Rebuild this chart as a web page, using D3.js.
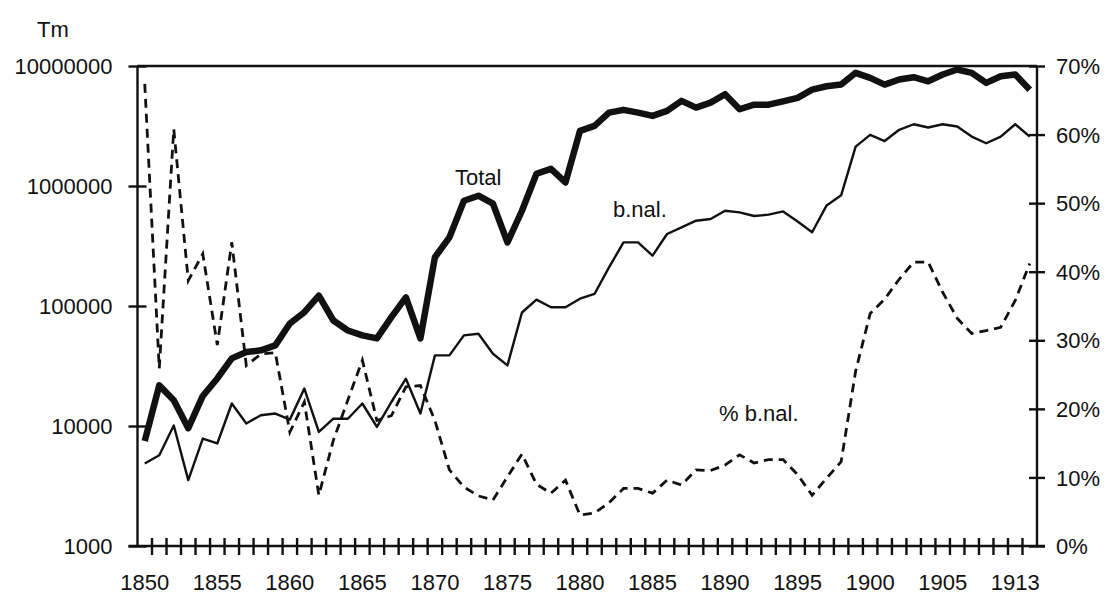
<!DOCTYPE html>
<html lang="en">
<head>
    <meta charset="UTF-8">
    <title>Tm - Total / b.nal.</title>
    <script src="https://cdnjs.cloudflare.com/ajax/libs/d3/7.8.5/d3.min.js"></script>
    <style>
        body { margin: 0; background: #fff; }
        svg text {
            font-family: "Liberation Sans", Arial, Helvetica, sans-serif;
            font-size: 22px;
            fill: #111;
        }
        .domain { display: none; }
        .tick line { stroke: #111; stroke-width: 2.4px; }
    </style>
</head>
<body>
    <div id="chart"></div>

    <script>
        // tonnage (Tm), log scale, left axis
        const total = [7500, 21800, 16400, 9600, 17800, 24900, 36600, 41300, 42700, 47000,
            71500, 88800, 122000, 75700, 62500, 56900, 53700, 80700, 118000, 53700,
            254700, 373000, 754000, 830000, 712000, 339000, 622000, 1265000, 1390000, 1071000,
            2880000, 3170000, 4090000, 4310000, 4090000, 3840000, 4230000, 5120000, 4500000, 4950000,
            5820000, 4360000, 4760000, 4760000, 5080000, 5420000, 6350000, 6780000, 7000000, 8770000,
            7960000, 7000000, 7710000, 8070000, 7460000, 8500000, 9350000, 8770000, 7230000, 8220000,
            8500000, 6350000];

        const bnal = [4870, 5710, 10100, 3540, 7860, 7150, 15400, 10500, 12300, 12700,
            11300, 20500, 8920, 11500, 11500, 15400, 9820, 15850, 24800, 12700,
            38800, 38800, 56900, 58700, 40000, 32000, 88300, 113000, 97700, 97700,
            115000, 126000, 210000, 339000, 339000, 263000, 398000, 452000, 514000, 531000,
            622000, 603000, 562000, 577000, 614000, 506000, 412000, 689000, 836000, 2130000,
            2670000, 2370000, 2940000, 3270000, 3070000, 3270000, 3130000, 2580000, 2270000, 2580000,
            3270000, 2580000];

        // % b.nal., right axis
        const pctBnal = [67.4, 25.9, 60.8, 38.7, 42.6, 29.3, 44.3, 26.3, 28.0, 28.2,
            16.6, 21.0, 7.4, 15.4, 21.3, 27.1, 18.3, 19.0, 23.2, 23.4,
            18.3, 11.1, 8.6, 7.3, 6.7, 10.1, 13.4, 9.0, 7.7, 9.6,
            4.5, 4.8, 6.3, 8.4, 8.4, 7.7, 9.6, 8.9, 11.1, 11.0,
            11.8, 13.3, 12.1, 12.6, 12.6, 10.4, 7.4, 9.9, 12.3, 25.5,
            33.9, 36.0, 38.9, 41.4, 41.4, 37.0, 33.2, 31.0, 31.4, 31.9,
            35.8, 41.2];

        // one label every 5 categories
        const xTickLabels = ["1850", "1855", "1860", "1865", "1870", "1875", "1880",
            "1885", "1890", "1895", "1900", "1905", "1913"];
        const leftTicks = [1000, 10000, 100000, 1000000, 10000000];
        const rightTicks = [0, 10, 20, 30, 40, 50, 60, 70];

        const width = 1107, height = 595;
        const plotL = 137.5, plotR = 1037, plotT = 66, plotB = 546;

        const svg = d3.select("#chart").append("svg")
            .attr("width", width)
            .attr("height", height);

        svg.append("rect").attr("width", width).attr("height", height).attr("fill", "#fff");

        const cats = total.map((d, i) => i);
        const x = d3.scaleBand().domain(cats).range([plotL, plotR]).padding(0);
        const cx = i => x(i) + x.bandwidth() / 2;
        const yL = d3.scaleLog().domain([1000, 10000000]).range([plotB, plotT]);
        const yR = d3.scaleLinear().domain([0, 70]).range([plotB, plotT]);

        // frame lines
        const frame = svg.append("g").attr("stroke", "#111").attr("stroke-width", 2.4);
        frame.append("line").attr("x1", plotL).attr("x2", plotR).attr("y1", plotT).attr("y2", plotT);
        frame.append("line").attr("x1", plotL).attr("x2", plotL).attr("y1", plotT).attr("y2", plotB);
        frame.append("line").attr("x1", plotR).attr("x2", plotR).attr("y1", plotT).attr("y2", plotB);
        frame.append("line").attr("x1", plotL - 9).attr("x2", plotR + 8).attr("y1", plotB).attr("y2", plotB);

        // left axis
        svg.append("g")
            .attr("transform", `translate(${plotL},0)`)
            .call(d3.axisLeft(yL).tickValues(leftTicks).tickFormat(d3.format("d")).tickSize(9).tickPadding(16))
            .call(g => g.selectAll(".tick line").attr("x2", -9).attr("x1", 9))
            .call(g => g.selectAll(".tick text").attr("dy", "0.35em"));

        // right axis
        svg.append("g")
            .attr("transform", `translate(${plotR},0)`)
            .call(d3.axisRight(yR).tickValues(rightTicks).tickFormat(d => d + "%").tickSize(8).tickPadding(11))
            .call(g => g.selectAll(".tick line").attr("x1", -8).attr("x2", 8))
            .call(g => g.selectAll(".tick text").attr("dy", "0.35em"));

        // x tick marks at category boundaries
        const step = x.step();
        const bounds = d3.range(cats.length + 1).map(k => plotL + k * step);
        svg.append("g").selectAll("line")
            .data(bounds.slice(1, -1))
            .enter().append("line")
            .attr("x1", d => d).attr("x2", d => d)
            .attr("y1", plotB - 8).attr("y2", plotB + 9)
            .attr("stroke", "#111").attr("stroke-width", 2.4);

        // x labels
        svg.append("g").selectAll("text")
            .data(xTickLabels)
            .enter().append("text")
            .attr("x", (d, i) => cx(i * 5))
            .attr("y", 590)
            .attr("text-anchor", "middle")
            .text(d => d);

        svg.append("text").attr("x", 37).attr("y", 37).text("Tm");

        // series
        const lineL = d3.line().x((d, i) => cx(i)).y(d => yL(d));
        const lineR = d3.line().x((d, i) => cx(i)).y(d => yR(d));

        svg.append("path").datum(pctBnal)
            .attr("d", lineR)
            .attr("fill", "none")
            .attr("stroke", "#111")
            .attr("stroke-width", 2.8)
            .attr("stroke-dasharray", "9,6");

        svg.append("path").datum(bnal)
            .attr("d", lineL)
            .attr("fill", "none")
            .attr("stroke", "#111")
            .attr("stroke-width", 2.4)
            .attr("stroke-linejoin", "round");

        svg.append("path").datum(total)
            .attr("d", lineL)
            .attr("fill", "none")
            .attr("stroke", "#111")
            .attr("stroke-width", 6.5)
            .attr("stroke-linejoin", "round");

        // series labels
        svg.append("text").attr("x", 455).attr("y", 185).text("Total");
        svg.append("text").attr("x", 613).attr("y", 217).text("b.nal.");
        svg.append("text").attr("x", 719).attr("y", 421).text("% b.nal.");
    </script>
</body>
</html>
